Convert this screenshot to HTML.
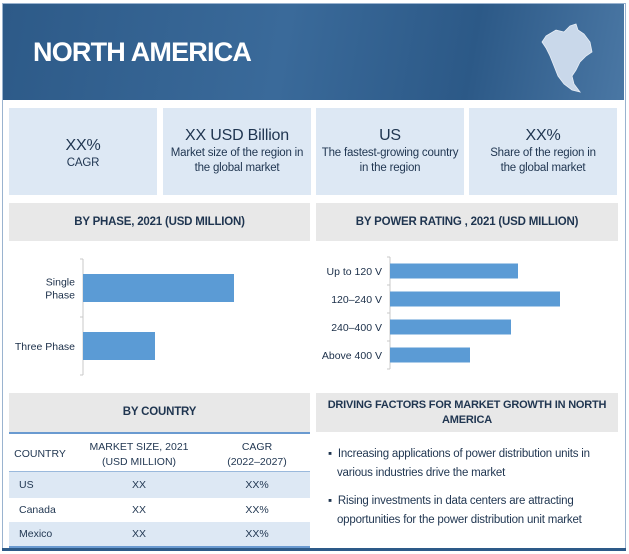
<!DOCTYPE html>
<html><head><meta charset="utf-8"><style>
body{margin:0;width:629px;height:554px;background:#fff;font-family:"Liberation Sans",sans-serif;overflow:hidden;position:relative}
.a{position:absolute}
.card{position:absolute;top:108px;height:87px;width:148px;background:#dde8f4;color:#1f3550;text-align:center;font-size:11.5px;line-height:15px;box-sizing:border-box;padding-top:22px;white-space:nowrap;letter-spacing:-0.2px}
.card b{display:block;font-size:16px;font-weight:normal;line-height:20px;color:#1f3550}
.hdr{position:absolute;background:#e8e8e8;color:#1f3550;font-size:11.5px;text-align:center;font-weight:bold;letter-spacing:-0.2px}
.cell{position:absolute;font-size:10.5px;color:#1f3550;text-align:center}
</style></head><body>
<div class="a" style="left:2px;top:3px;width:622px;height:546px;border:1px solid #9ab3cf"></div>
<div class="a" style="left:3px;top:4px;width:621px;height:96px;background:linear-gradient(100deg,#2d5a88 0%,#3a6a9a 45%,#2c5987 75%,#4a77a4 100%)">
<div class="a" style="left:30px;top:33px;color:#fff;font-size:27px;font-weight:bold;letter-spacing:-0.8px">NORTH AMERICA</div>
<svg class="a" style="left:535px;top:18px" width="60" height="80" viewBox="0 0 60 80"><path d="M8 14 L18 8 L26 10 L32 4 L38 2 L40 8 L46 12 L52 20 L54 30 L48 34 L42 40 L38 48 L34 54 L36 62 L42 70 L34 68 L26 62 L20 54 L16 44 L12 34 L8 26 L4 20 Z" fill="#c9d8ea" stroke="#e8eef6" stroke-width="0.8"/></svg>
</div>
<div class="card" style="left:9px;padding-top:28px"><b>XX%</b>CAGR</div>
<div class="card" style="left:163px;padding-top:18px"><b>XX USD Billion</b>Market size of the region in<br>the global market</div>
<div class="card" style="left:316px;padding-top:18px"><b>US</b>The fastest-growing country<br>in the region</div>
<div class="card" style="left:469px;padding-top:18px"><b>XX%</b>Share of the region in<br>the global market</div>
<div class="hdr" style="left:9px;top:203px;width:301px;height:38px;line-height:38px">BY PHASE, 2021 (USD MILLION)</div>
<div class="hdr" style="left:316px;top:203px;width:302px;height:38px;line-height:38px">BY POWER RATING , 2021 (USD MILLION)</div>
<svg class="a" id="charts" style="left:0;top:0" width="629" height="554"></svg>
<div class="hdr" style="left:9px;top:393px;width:301px;height:39px;line-height:39px">BY COUNTRY</div>
<div class="hdr" style="left:316px;top:393px;width:302px;height:39px;line-height:15px;padding-top:5px;box-sizing:border-box;font-size:11px;white-space:nowrap">DRIVING FACTORS FOR MARKET GROWTH IN NORTH<br>AMERICA</div>
<div class="a" style="left:9px;top:432px;width:301px;height:116px">
<div class="a" style="left:0;top:0;width:301px;height:2px;background:#6a9ad0"></div>
<div class="a" style="left:0;top:39px;width:301px;height:26px;background:#dde8f4;border-top:1px solid #9ab9dc"></div>
<div class="a" style="left:0;top:90px;width:301px;height:24px;background:#dde8f4"></div>
<div class="a" style="left:0;top:114px;width:301px;height:2px;background:#6a9ad0"></div>
<div class="cell" style="left:0;top:16px;width:62px">COUNTRY</div>
<div class="cell" style="left:70px;top:8px;width:120px;line-height:15px">MARKET SIZE, 2021<br>(USD MILLION)</div>
<div class="cell" style="left:200px;top:8px;width:96px;line-height:15px">CAGR<br>(2022–2027)</div>
<div class="cell" style="left:10px;top:47px;text-align:left">US</div><div class="cell" style="left:110px;top:47px;width:40px">XX</div><div class="cell" style="left:225px;top:47px;width:46px">XX%</div>
<div class="cell" style="left:10px;top:72px;text-align:left">Canada</div><div class="cell" style="left:110px;top:72px;width:40px">XX</div><div class="cell" style="left:225px;top:72px;width:46px">XX%</div>
<div class="cell" style="left:10px;top:96px;text-align:left">Mexico</div><div class="cell" style="left:110px;top:96px;width:40px">XX</div><div class="cell" style="left:225px;top:96px;width:46px">XX%</div>
</div>
<div class="a" style="left:328px;top:445px;font-size:11.5px;line-height:19px;color:#1f3550;white-space:nowrap;letter-spacing:-0.2px">▪ &nbsp;Increasing applications of power distribution units in<br>&nbsp;&nbsp;&nbsp;various industries drive the market</div>
<div class="a" style="left:328px;top:492px;font-size:11.5px;line-height:19px;color:#1f3550;white-space:nowrap;letter-spacing:-0.2px">▪ &nbsp;Rising investments in data centers are attracting<br>&nbsp;&nbsp;&nbsp;opportunities for the power distribution unit market</div>
<div class="a" style="left:2px;top:548px;width:624px;height:3px;background:#2d5a88"></div>
<script>
const phaseCats=["Single Phase","Three Phase"];
const phaseVals=[151,72];
const powerCats=["Up to 120 V","120–240 V","240–400 V","Above 400 V"];
const powerVals=[128,170,121,80];
const svg=document.getElementById('charts');
const NS='http://www.w3.org/2000/svg';
function mk(t,a){const e=document.createElementNS(NS,t);for(const k in a)e.setAttribute(k,a[k]);svg.appendChild(e);return e;}
function chart(cats,vals,x0,yTop,band,barH,scale,name){
  const ax=mk('line',{x1:x0,x2:x0,y1:yTop,y2:yTop+band*cats.length,stroke:'#c8c8c8'});
  
  
  cats.forEach((c,i)=>{
    const cy=yTop+band*(i+0.5);
    mk('line',{x1:x0-3,x2:x0,y1:yTop+band*i,y2:yTop+band*i,stroke:'#c8c8c8'});
    const r=mk('rect',{x:x0,y:cy-barH/2,width:vals[i]*scale,height:barH,fill:'#5b9bd5'});
    
    
    const words=(name==='phase'&&c==='Single Phase')?['Single','Phase']:[c];
    words.forEach((w,j)=>{
      const t=mk('text',{x:x0-8,y:cy+4+(j-(words.length-1)/2)*13,'text-anchor':'end','font-size':'10.5','fill':'#1a2e48','font-family':'Liberation Sans, sans-serif'});
      t.textContent=w;
      
      
    });
  });
  mk('line',{x1:x0-3,x2:x0,y1:yTop+band*cats.length,y2:yTop+band*cats.length,stroke:'#c8c8c8'});
}
chart(phaseCats,phaseVals,83,259,58,28,1,'phase');
chart(powerCats,powerVals,390,257,28,15,1,'power');
</script>
</body></html>
